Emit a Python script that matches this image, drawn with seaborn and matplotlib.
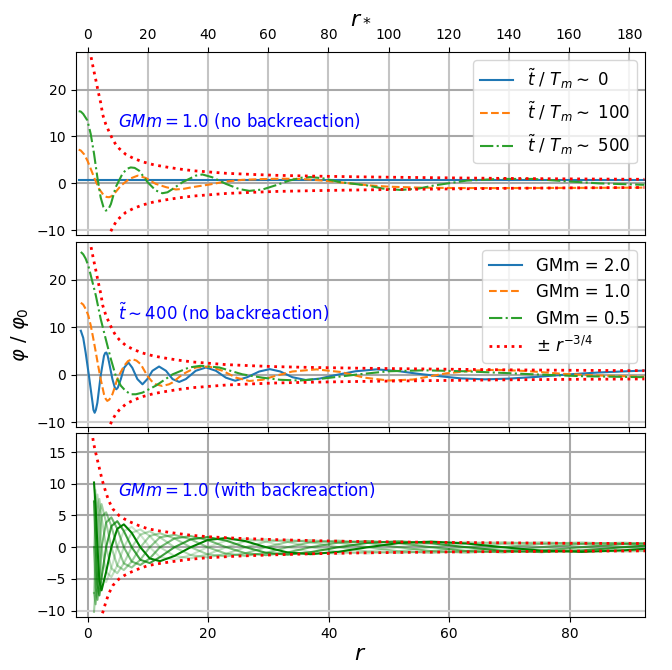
import numpy as np
import pandas as pd
import matplotlib
matplotlib.use("Agg")
import matplotlib.pyplot as plt
import seaborn as sns

# ---------------- data (top & middle panels: x = r_*) ----------------
env_rs = [0.5, 1.0, 1.8, 2.7, 3.5, 4.3, 5.0, 6.0, 7.1, 8.2, 9.3, 10.5, 12.6, 15, 18.2,
          22, 26, 30, 35, 40, 46, 55, 62.5, 75, 90, 100, 120, 140, 160, 185]
env_rs_val = [30.0, 27.3, 24.7, 22.0, 19.5, 17.2, 14.6, 12.6, 11.0, 9.5, 8.3, 7.4, 6.2, 5.4, 4.6,
              3.95, 3.5, 3.1, 2.7, 2.45, 2.15, 1.9, 1.72, 1.55, 1.4, 1.32, 1.18, 1.05, 0.96, 0.87]

top_t0_x = [-3, 185]
top_t0_y = [0.8, 0.8]

top_t100_x = [-3, -2.3, -1.2, -0.1, 1, 2.1, 3.8, 5.4, 6.3, 7.1, 8, 8.8, 11, 13.8, 16.6, 19.3,
              22.6, 26, 29.3, 32, 34.8, 40.4, 45.9, 51.4, 58, 65, 72, 80, 87, 94, 100, 110,
              120, 135, 150, 165, 185]
top_t100_y = [7.2, 7.0, 6.2, 4.85, 3.1, 1.3, -1.2, -2.6, -2.9, -2.95, -2.7, -2.2, -0.5, 0.95,
              1.65, 1.15, -0.1, -0.8, -1.3, -1.15, -0.8, -0.25, 0.4, 0.75, 0.92, 1.0, 0.9, 0.5,
              0.0, -0.45, -0.7, -0.9, -0.98, -1.0, -0.98, -0.95, -0.9]

top_t500_x = [-3, -2.3, -1.5, -0.7, -0.1, 1, 2.1, 3.2, 4.3, 5.2, 6, 6.8, 7.7, 9.3, 11.5, 13,
              14.3, 15.6, 17.1, 19.9, 22.6, 24.8, 26.5, 28.2, 31.5, 35.9, 38.1, 41.4, 45.9,
              50.3, 53.7, 58.1, 62.5, 67, 71, 74, 78, 84, 93, 98, 104, 110, 115, 126, 137,
              148, 159, 170, 185]
top_t500_y = [15.4, 15.3, 14.8, 14.0, 13.4, 10.5, 6.3, 1.3, -3.0, -5.0, -5.8, -5.6, -4.4, -0.8,
              2.0, 3.1, 3.4, 3.3, 2.7, 0.25, -1.5, -2.1, -1.9, -1.2, 0.25, 1.65, 1.9, 1.3, -0.1,
              -1.2, -1.6, -1.3, -0.4, 0.6, 1.2, 1.35, 1.1, 0.25, -0.45, -1.1, -1.4, -1.1, -0.45,
              0.6, 0.95, 0.95, 0.45, 0.0, -0.3]

mid_g20_x = [-2.3, -1.5, -0.7, 0.4, 1.6, 1.9, 2.3, 2.7, 3.2, 4.3, 5.4, 5.8, 6.2, 6.6, 7.1, 8.2,
             9.0, 9.5, 10.0, 11, 12.1, 13.5, 14.8, 16.5, 18.2, 19.8, 21.5, 23.7, 26, 28.2,
             30.4, 32.6, 35.9, 39.3, 42.6, 45.9, 49, 53, 57, 60.5, 64, 68, 72.5, 77, 82, 89,
             96, 103, 110, 117, 124, 132, 140, 150, 160, 170, 185]
mid_g20_y = [9.3, 7.8, 4.7, -0.2, -5.9, -7.4, -8.0, -7.4, -5.9, -0.2, 4.0, 4.6, 4.7, 4.1, 2.6,
             -0.9, -2.7, -3.05, -2.7, -0.9, 1.5, 2.6, 1.5, -0.9, -2.0, -0.9, 0.85, 1.75, 0.85,
             -0.9, -1.5, -0.9, 0.85, 1.55, 0.85, -0.6, -1.25, -0.5, 0.7, 1.2, 0.7, -0.5, -1.1,
             -0.8, -0.1, 0.75, 1.15, 0.8, 0.2, -0.3, -0.75, -0.95, -0.8, -0.4, 0.1, 0.5, 0.9]

mid_g10_x = [-2.3, -1.5, -0.7, 0.2, 1.0, 1.8, 2.7, 3.5, 4.3, 5.4, 6.0, 6.5, 7.2, 8.2, 9.0, 9.8,
             11, 12.1, 13.4, 14.8, 16.2, 17.6, 19.8, 21.2, 22.6, 24.8, 27, 28.2, 31.5, 35.9,
             40.4, 44.8, 49.3, 53.7, 58, 62.5, 68, 76, 84, 92, 100, 108, 119, 128, 136, 146,
             158, 170, 185]
mid_g10_y = [15.2, 14.8, 13.9, 12.5, 10.4, 7.8, 4.7, 1.8, -0.9, -4.1, -5.1, -5.5, -5.2, -4.1,
             -2.6, -0.9, 0.6, 1.9, 2.9, 3.3, 3.0, 2.25, -0.2, -1.3, -2.0, -2.35, -2.0, -1.6,
             0.1, 1.55, 1.75, 0.85, -0.6, -1.3, -1.05, -0.2, 0.7, 1.15, 0.6, -0.6, -1.2, -1.0,
             0.3, 0.9, 1.05, 0.8, 0.2, -0.15, -0.4]

mid_g05_x = [-2.3, -1.5, -0.7, 0.2, 1, 2.7, 4.3, 6, 7.7, 9.3, 11, 12.6, 14.3, 16, 18.2, 22.6,
             28.2, 33.7, 37.5, 43.7, 51.4, 58, 64, 70.5, 78, 90, 100, 112, 125, 138, 150,
             165, 185]
mid_g05_y = [25.9, 25.4, 24.5, 23.0, 21.0, 16.7, 11.8, 7.5, 3.3, -0.2, -2.3, -3.4, -4.1, -4.1,
             -3.75, -2.3, 0.1, 1.55, 1.9, 1.55, 0.1, -0.6, -1.05, -1.2, -0.8, 0.1, 0.75, 0.95,
             0.75, 0.4, 0.05, -0.3, -0.5]

# ---------------- bottom panel (x = r) ----------------
env_r = [0.85, 1.0, 1.3, 1.6, 1.9, 2.4, 3.0, 3.5, 4.2, 5.2, 6.0, 7.0, 8.5, 10, 12, 14.6, 17,
         20, 25, 31, 38, 45, 52, 60, 70, 80, 92.5]
env_r_val = [17.2, 16.3, 15.0, 13.8, 12.6, 10.6, 8.7, 7.3, 6.0, 5.0, 4.5, 4.0, 3.4, 2.9, 2.55,
             2.2, 1.9, 1.65, 1.4, 1.2, 1.02, 0.9, 0.82, 0.75, 0.68, 0.62, 0.58]

# snapshots with backreaction (shared r samples)
br_r = [1.05, 1.32, 1.62, 1.94, 2.30, 3.06, 3.93, 4.91, 6.0, 7.31, 8.74, 10.3, 12.0, 14.4,
        17.1, 19.9, 23.0, 26.2, 29.6, 33.2, 37.0, 41.6, 46.5, 51.6, 57.0, 62.8, 68.9, 75.3,
        82.0, 88.9, 96.2]
br_s0 = [10.2, 6.36, 0, -5.37, -6.8, -3.89, 0, 2.90, 3.6, 2.26, 0, -1.77, -2.2, -1.38, 0, 1.13,
         1.45, 0.95, 0, -0.83, -1.1, -0.73, 0, 0.65, 0.88, 0.59, 0, -0.54, -0.74, -0.50, 0]
br_s1 = [7.21, 9.0, 5.87, 0, -4.81, -5.5, -3.32, 0, 2.55, 3.2, 1.98, 0, -1.56, -1.95, -1.24, 0,
         1.03, 1.35, 0.88, 0, -0.78, -1.03, -0.69, 0, 0.62, 0.84, 0.57, 0, -0.52, -0.71, -0.48]
br_s2 = [0, 6.36, 8.3, 5.37, 0, -3.89, -4.7, -2.90, 0, 2.26, 2.8, 1.77, 0, -1.38, -1.75, -1.13,
         0, 0.95, 1.25, 0.83, 0, -0.73, -0.97, -0.65, 0, 0.59, 0.8, 0.54, 0, -0.50, -0.68]
br_s3 = [-7.21, 0, 5.87, 7.6, 4.81, 0, -3.32, -4.1, -2.55, 0, 1.98, 2.5, 1.56, 0, -1.24, -1.6,
         -1.03, 0, 0.88, 1.17, 0.78, 0, -0.69, -0.92, -0.62, 0, 0.57, 0.77, 0.52, 0, -0.48]
br_s4 = [-10.2, -6.36, 0, 5.37, 6.8, 3.89, 0, -2.90, -3.6, -2.26, 0, 1.77, 2.2, 1.38, 0, -1.13,
         -1.45, -0.95, 0, 0.83, 1.1, 0.73, 0, -0.65, -0.88, -0.59, 0, 0.54, 0.74, 0.50, 0]
br_s5 = [-7.21, -9.0, -5.87, 0, 4.81, 5.5, 3.32, 0, -2.55, -3.2, -1.98, 0, 1.56, 1.95, 1.24, 0,
         -1.03, -1.35, -0.88, 0, 0.78, 1.03, 0.69, 0, -0.62, -0.84, -0.57, 0, 0.52, 0.71, 0.48]
br_s6 = [0, -6.36, -8.3, -5.37, 0, 3.89, 4.7, 2.90, 0, -2.26, -2.8, -1.77, 0, 1.38, 1.75, 1.13,
         0, -0.95, -1.25, -0.83, 0, 0.73, 0.97, 0.65, 0, -0.59, -0.8, -0.54, 0, 0.50, 0.68]
br_s7 = [7.21, 0, -5.87, -7.6, -4.81, 0, 3.32, 4.1, 2.55, 0, -1.98, -2.5, -1.56, 0, 1.24, 1.6,
         1.03, 0, -0.88, -1.17, -0.78, 0, 0.69, 0.92, 0.62, 0, -0.57, -0.77, -0.52, 0, 0.48]
br_snapshots = [br_s1, br_s2, br_s3, br_s4, br_s5, br_s6, br_s7, br_s0]
br_alpha = [0.2, 0.25, 0.3, 0.36, 0.43, 0.55, 0.75, 1.0]

top_labels = [r"$\tilde{t}\ /\ T_m \sim$ 0", r"$\tilde{t}\ /\ T_m \sim$ 100",
              r"$\tilde{t}\ /\ T_m \sim$ 500"]
mid_labels = ["GMm = 2.0", "GMm = 1.0", "GMm = 0.5", r"$\pm\ r^{-3/4}$"]

# ---------------- figure ----------------
fig = plt.figure(figsize=(6.72, 6.70), dpi=100)
W, H = 672.0, 670.0
def axes_px(l, t, r, b):
    return fig.add_axes([l / W, 1 - b / H, (r - l) / W, (b - t) / H])

ax1 = axes_px(76, 52, 645, 235)
ax2 = axes_px(76, 242, 645, 427)
ax3 = axes_px(76, 433, 645, 617)

def line(ax, x, y, **kw):
    sns.lineplot(x=np.asarray(x, float), y=np.asarray(y, float), ax=ax,
                 estimator=None, sort=False, legend=False, **kw)

C0, C1, C2 = "#1f77b4", "#ff7f0e", "#2ca02c"

# top
line(ax1, top_t0_x, top_t0_y, color=C0, lw=1.5, label=top_labels[0])
line(ax1, top_t100_x, top_t100_y, color=C1, lw=1.5, linestyle="--", label=top_labels[1])
line(ax1, top_t500_x, top_t500_y, color=C2, lw=1.5, linestyle="-.", label=top_labels[2])
line(ax1, env_rs, env_rs_val, color="red", lw=2, linestyle=":")
line(ax1, env_rs, [-v for v in env_rs_val], color="red", lw=2, linestyle=":")

# middle
line(ax2, mid_g20_x, mid_g20_y, color=C0, lw=1.5, label=mid_labels[0])
line(ax2, mid_g10_x, mid_g10_y, color=C1, lw=1.5, linestyle="--", label=mid_labels[1])
line(ax2, mid_g05_x, mid_g05_y, color=C2, lw=1.5, linestyle="-.", label=mid_labels[2])
line(ax2, env_rs, env_rs_val, color="red", lw=2, linestyle=":", label=mid_labels[3])
line(ax2, env_rs, [-v for v in env_rs_val], color="red", lw=2, linestyle=":")

# bottom
for snap, a in zip(br_snapshots, br_alpha):
    line(ax3, br_r, snap, color="green", lw=1.5, alpha=a)
line(ax3, env_r, env_r_val, color="red", lw=2, linestyle=":")
line(ax3, env_r, [-v for v in env_r_val], color="red", lw=2, linestyle=":")

for ax in (ax1, ax2):
    ax.set_xlim(-3.9, 185.2)
    ax.set_ylim(-11, 28)
    ax.set_yticks([-10, 0, 10, 20])
    ax.set_xticks(np.arange(0, 181, 20))
ax3.set_xlim(-1.94, 92.5)
ax3.set_ylim(-11, 18)
ax3.set_yticks([-10, -5, 0, 5, 10, 15])
ax3.set_xticks([0, 20, 40, 60, 80])

ax1.xaxis.tick_top()
ax1.xaxis.set_label_position("top")
ax2.tick_params(axis="x", labelbottom=False)

for ax in (ax1, ax2, ax3):
    ax.grid(True, color="#b0b0b0", lw=1.5)
    ax.set_axisbelow(True)
    ax.tick_params(labelsize=10)
    ax.set_ylabel("")
    ax.set_xlabel("")
    for gl, val in zip(ax.get_ygridlines(), ax.get_yticks()):
        gl.set_color("#d0d0d0" if val == -10 else "#a8a8a8")
for ax in (ax1, ax2):
    for gl in ax.get_xgridlines():
        gl.set_color("#c4c4c4")
for gl in ax3.get_xgridlines():
    gl.set_color("#a8a8a8")

ax1.set_xlabel(r"$r_*$", fontsize=16)
ax3.set_xlabel(r"$r$", fontsize=16, labelpad=2)
ax2.set_ylabel(r"$\varphi\ /\ \varphi_0$", fontsize=14)

ax1.legend(loc="upper right", fontsize=12)
ax2.legend(loc="upper right", fontsize=12)

ax1.text(10, 13.4, r"$GMm = 1.0$ (no backreaction)", color="blue", fontsize=12, va="center")
ax2.text(10, 13.2, r"$\tilde{t} \sim 400$ (no backreaction)", color="blue", fontsize=12, va="center")
ax3.text(5, 9.0, r"$GMm = 1.0$ (with backreaction)", color="blue", fontsize=12, va="center")

fig.savefig("out.png", dpi=100)
